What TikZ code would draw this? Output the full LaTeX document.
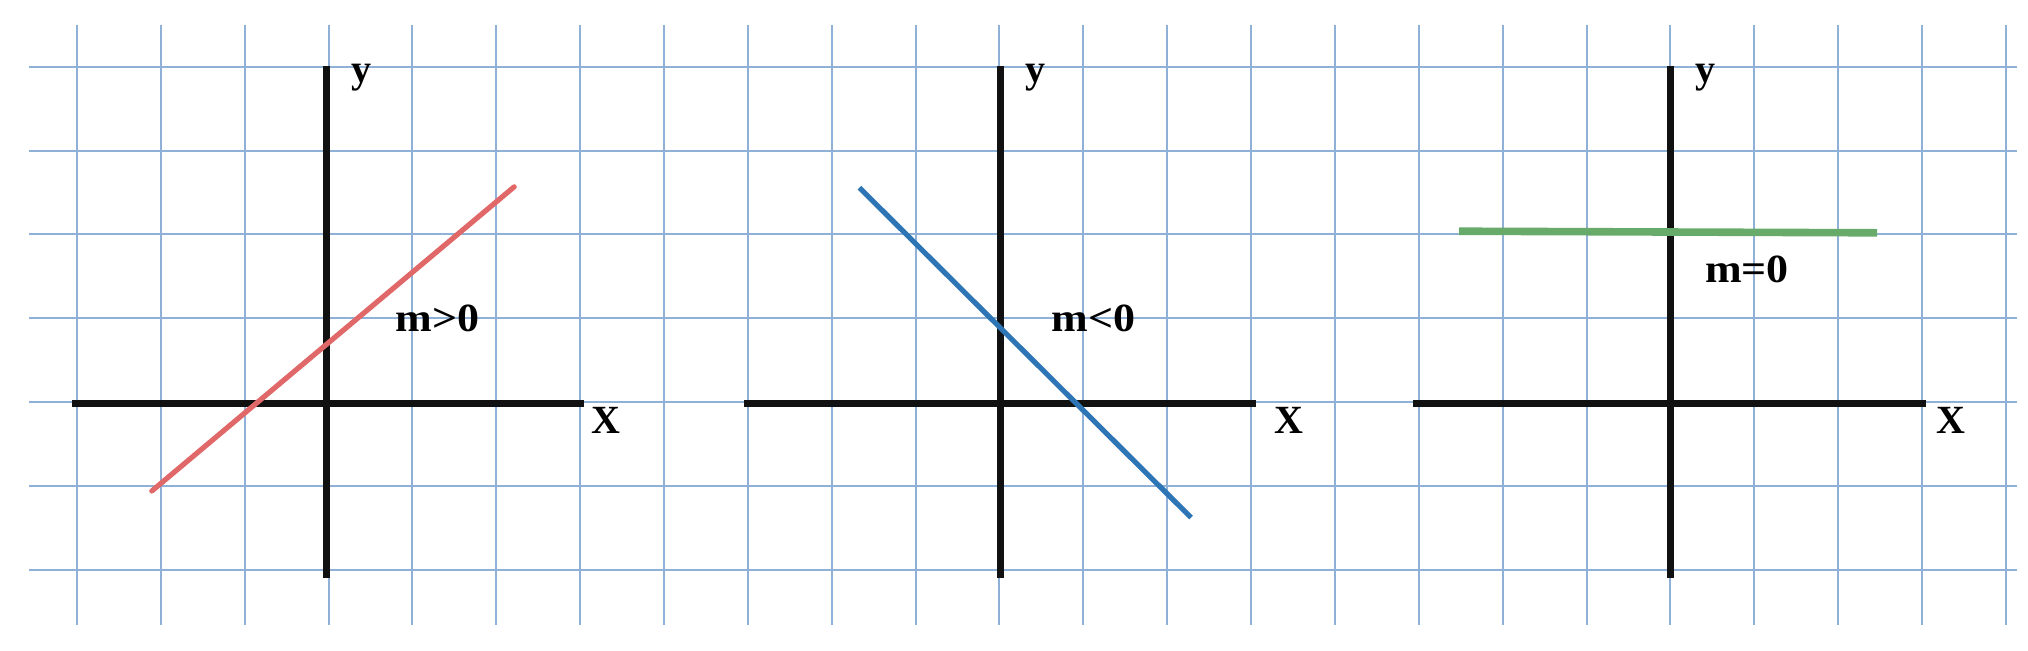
\documentclass[tikz,border=0pt]{standalone}
\usepackage{fontspec}
\setmainfont{Liberation Serif}
\usepackage{graphicx}
\definecolor{gridblue}{RGB}{143,177,216}
\definecolor{axisblack}{RGB}{17,17,17}
\definecolor{redline}{RGB}{224,104,104}
\definecolor{blueline}{RGB}{46,117,182}
\definecolor{greenline}{RGB}{104,170,106}
\begin{document}
\begin{tikzpicture}[x=0.5pt,y=-0.5pt,
  gridline/.style={draw=gridblue,line width=1pt},
  axisline/.style={draw=axisblack,line width=3.5pt},
  lbl/.style={font=\fontsize{20}{24}\selectfont\bfseries,inner sep=0pt,anchor=base,text=black},
  slopeline/.style={line width=2.6pt}
 ]
\useasboundingbox (0,0) rectangle (2028,650);
% grid
\foreach \i in {0,...,23} \draw[gridline] ({77+\i*83.86},24.7) -- ({77+\i*83.86},625);
\foreach \j in {0,...,6} \draw[gridline] (29,{66.7+\j*83.88}) -- (2017,{66.7+\j*83.88});
% panel 1
\coordinate (x1l) at (71.7,403.1);  \coordinate (x1r) at (583.9,403.1);
\coordinate (y1t) at (326.9,65.9);  \coordinate (y1b) at (326.9,578.3);
\draw[axisline] (x1l) -- (x1r);
\draw[axisline] (y1t) -- (y1b);
\coordinate (r1) at (151.8,491); \coordinate (r2) at (514.2,186.8);
\draw[slopeline,draw=redline,line cap=round] (r1) -- (r2);
\node[lbl] (ly1) at (361.2,82) {y};
\node[lbl] (lm1) at (437.3,331.8) {\scalebox{1.1}[1]{m>0}};
\node[lbl] (lx1) at (605.7,433.3) {X};
% panel 2
\coordinate (x2l) at (744.4,403.1);  \coordinate (x2r) at (1256.4,403.1);
\coordinate (y2t) at (1000.9,65.9);  \coordinate (y2b) at (1000.9,578.3);
\draw[axisline] (x2l) -- (x2r);
\draw[axisline] (y2t) -- (y2b);
\coordinate (b1) at (859.4,187.7); \coordinate (b2) at (1191,517.5);
\draw[slopeline,draw=blueline] (b1) -- (b2);
\node[lbl] (ly2) at (1035.7,82) {y};
\node[lbl] (lm2) at (1093.7,331.8) {\scalebox{1.1}[1]{m<0}};
\node[lbl] (lx2) at (1289,433.3) {X};
% panel 3
\coordinate (x3l) at (1413.3,403.1);  \coordinate (x3r) at (1926.0,403.1);
\coordinate (y3t) at (1670.7,65.9);  \coordinate (y3b) at (1670.7,578.3);
\draw[axisline] (x3l) -- (x3r);
\draw[axisline] (y3t) -- (y3b);
\coordinate (g1) at (1459,231.2); \coordinate (g2) at (1877,232.8);
\draw[line width=3.8pt,draw=greenline] (g1) -- (g2);
\node[lbl] (ly3) at (1705.1,82) {y};
\node[lbl] (lm3) at (1747,282.1) {\scalebox{1.1}[1]{m=0}};
\node[lbl] (lx3) at (1950.6,433.3) {X};
\end{tikzpicture}
\end{document}
